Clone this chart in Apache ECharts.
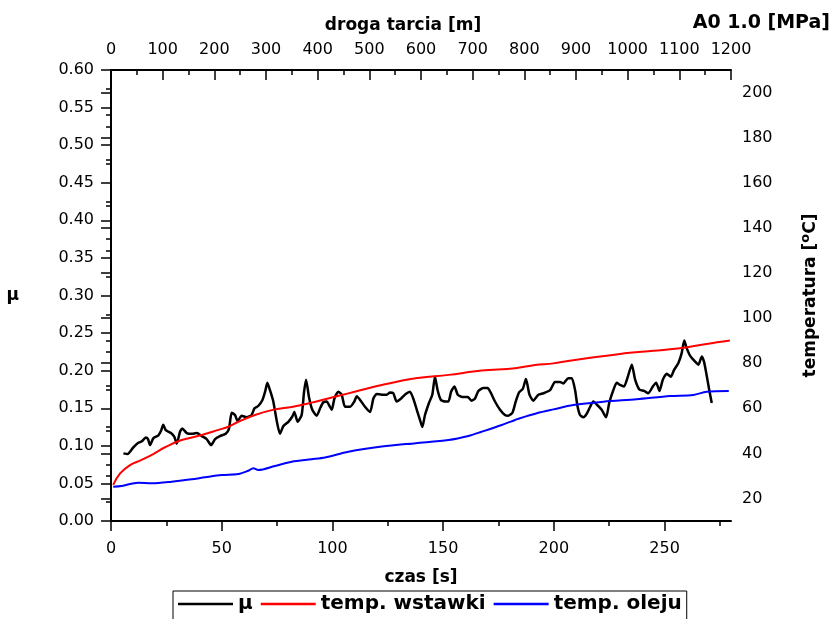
<!DOCTYPE html>
<html>
<head>
<meta charset="utf-8">
<script src="https://cdn.jsdelivr.net/npm/echarts@6/dist/echarts.min.js"></script>
<style>
  html, body { margin: 0; padding: 0; background: #fff; }
  #chart { width: 837px; height: 619px; }
</style>
</head>
<body>
<div id="chart"></div>
<script>
// wspolczynnik tarcia
const czasMu = [5.6, 7.5, 10.1, 12.3, 13.9, 15.7, 16.7, 17.6, 19.1, 21.4, 22.6, 23.6, 24.7, 27.1, 28.6, 29.7,
  31.2, 32.2, 34.2, 36.4, 38.7, 41.0, 43.2, 45.2, 47.0, 49.2, 51.8, 53.3, 54.5, 56.0, 57.2, 59.0, 61.3, 63.5,
  64.8, 66.5, 68.4, 69.6, 70.6, 71.8, 73.3, 74.8, 76.3, 77.8, 80.1, 81.9, 82.8, 84.3, 86.1, 87.2, 88.1, 89.4,
  90.9, 92.9, 94.6, 95.9, 97.4, 98.5, 99.7, 100.9, 102.7, 104.2, 105.7, 108.0, 109.9, 111.0, 112.5, 114.7,
  117.0, 118.5, 120.0, 122.3, 124.5, 126.0, 127.5, 129.0, 131.0, 133.1, 135.0, 136.5, 138.1, 139.6, 140.6,
  141.8, 143.6, 145.1, 146.3, 147.5, 149.0, 150.9, 152.4, 153.6, 155.1, 156.6, 158.7, 161.1, 162.9, 164.4,
  165.9, 168.2, 170.1, 171.6, 173.4, 175.7, 177.9, 179.4, 181.3, 182.8, 184.3, 186.0, 187.4, 189.0, 190.7,
  193.0, 195.3, 198.3, 200.5, 202.8, 204.3, 206.5, 208.1, 209.6, 210.6, 211.8, 213.3, 214.9, 216.4, 217.8,
  219.7, 221.6, 223.6, 225.0, 226.6, 228.4, 229.9, 231.7, 233.2, 235.2, 236.7, 238.6, 240.7, 242.7, 244.7,
  246.2, 247.7, 249.2, 251.0, 252.8, 254.3, 256.2, 257.7, 258.9, 260.0, 261.5, 263.8, 265.3, 266.8, 267.8,
  269.0, 270.2, 271.3];
const mu = [0.090, 0.089, 0.098, 0.104, 0.106, 0.111, 0.109, 0.101, 0.110, 0.114, 0.120, 0.128, 0.121, 0.117, 0.112, 0.103,
  0.119, 0.123, 0.117, 0.116, 0.117, 0.113, 0.109, 0.101, 0.109, 0.113, 0.116, 0.123, 0.144, 0.141, 0.133, 0.140, 0.138, 0.141,
  0.150, 0.153, 0.161, 0.172, 0.184, 0.174, 0.159, 0.134, 0.116, 0.126, 0.132, 0.139, 0.145, 0.132, 0.141, 0.172, 0.188, 0.165,
  0.148, 0.140, 0.151, 0.158, 0.159, 0.154, 0.148, 0.163, 0.172, 0.168, 0.152, 0.152, 0.159, 0.166, 0.161, 0.152,
  0.145, 0.163, 0.169, 0.168, 0.168, 0.171, 0.170, 0.159, 0.163, 0.169, 0.172, 0.163, 0.148, 0.134, 0.125,
  0.141, 0.157, 0.168, 0.192, 0.174, 0.161, 0.159, 0.159, 0.172, 0.179, 0.168, 0.165, 0.165, 0.160, 0.163,
  0.173, 0.177, 0.177, 0.170, 0.159, 0.148, 0.141, 0.140, 0.144, 0.159, 0.171, 0.176, 0.189, 0.168, 0.160,
  0.168, 0.170, 0.174, 0.185, 0.185, 0.183, 0.190, 0.190, 0.174, 0.154, 0.141, 0.138, 0.143, 0.152, 0.159,
  0.154, 0.148, 0.138, 0.157, 0.172, 0.184, 0.181, 0.179, 0.190, 0.208, 0.188, 0.175, 0.173, 0.170, 0.179,
  0.184, 0.173, 0.188, 0.196, 0.192, 0.201, 0.210, 0.223, 0.240, 0.230, 0.220, 0.212, 0.208, 0.219, 0.212,
  0.194, 0.174, 0.157];

// temperatura wstawki
const czasWstawki = [1.0, 4.1, 8.6, 13.1, 19.1, 24.4, 31.9, 41.0, 48.5, 53.0, 57.5, 65.0, 74.0, 81.6, 90.6, 96.7,
  107.2, 122.3, 137.6, 152.4, 167.4, 182.5, 191.5, 199.8, 214.9, 229.9, 244.9, 257.0, 269.0, 279.5];
const tempWstawki = [26.0, 31.1, 34.8, 36.8, 39.7, 42.7, 45.9, 48.1, 50.4, 51.8, 54.0, 57.0, 59.5, 60.6, 62.5, 64.0,
  66.6, 70.3, 73.3, 74.8, 76.7, 77.7, 79.2, 79.9, 82.2, 84.1, 85.5, 86.6, 88.5, 90.0];

// temperatura oleju
const czasOleju = [1.0, 4.8, 12.3, 18.4, 27.4, 36.4, 42.5, 50.0, 57.5, 62.0, 64.3, 66.5, 74.0, 81.6, 90.6, 96.7,
  107.2, 122.3, 137.6, 152.4, 161.4, 167.4, 176.5, 182.5, 184.7, 192.3, 199.8, 208.8, 222.4, 237.4, 252.5,
  263.0, 269.0, 279.0];
const tempOleju = [25.2, 25.5, 27.0, 26.7, 27.4, 28.5, 29.4, 30.4, 30.8, 32.3, 33.4, 32.6, 34.4, 36.3, 37.4, 38.2,
  40.7, 43.0, 44.5, 45.9, 47.7, 49.6, 52.6, 54.8, 55.6, 57.8, 59.5, 61.4, 62.9, 64.0, 65.4,
  65.9, 67.3, 67.6];

const czasMajor = [0, 50, 100, 150, 200, 250];
const czasMinor = [25, 75, 125, 175, 225, 275];
const tempMajor = [20, 40, 60, 80, 100, 120, 140, 160, 180, 200];
const tempMinor = [30, 50, 70, 90, 110, 130, 150, 170, 190];

const zip = (xs, ys) => xs.map((x, i) => [x, ys[i]]);

const FONT = 'DejaVu Sans';
const lineBlack = { color: '#000', width: 2 };
const tickStyle = { color: '#000', width: 1.5 };
const labelStyle = { color: '#000', fontSize: 16, fontFamily: FONT };
const nameStyle = { color: '#000', fontSize: 17, fontWeight: 'bold', fontFamily: FONT };

const chart = echarts.init(document.getElementById('chart'));

const option = {
  animation: false,
  backgroundColor: '#fff',
  title: {
    text: 'A0 1.0 [MPa]',
    right: 2,
    top: 9,
    textStyle: { color: '#000', fontSize: 19, fontWeight: 'bold', fontFamily: FONT }
  },
  grid: { left: 111, right: 106, top: 70, bottom: 98 },
  legend: {
    left: 173,
    top: 591,
    orient: 'horizontal',
    icon: 'rect',
    itemWidth: 55,
    itemHeight: 2.5,
    itemGap: 8,
    padding: [3, 5, 6, 5],
    borderColor: '#000',
    borderWidth: 1,
    textStyle: { color: '#000', fontSize: 20, fontWeight: 'bold', fontFamily: FONT },
    data: ['μ', 'temp. wstawki', 'temp. oleju']
  },
  xAxis: [
    {
      type: 'value',
      position: 'bottom',
      min: 0,
      max: 280,
      name: 'czas [s]',
      nameLocation: 'middle',
      nameGap: 48,
      nameTextStyle: nameStyle,
      axisLine: { lineStyle: lineBlack },
      axisTick: { customValues: czasMajor, length: 10, lineStyle: tickStyle },
      axisLabel: Object.assign({ customValues: czasMajor, margin: 20 }, labelStyle),
      splitLine: { show: false }
    },
    {
      type: 'value',
      position: 'top',
      min: 0,
      max: 1200,
      interval: 100,
      name: 'droga tarcia [m]',
      nameLocation: 'middle',
      nameGap: 36,
      nameTextStyle: Object.assign({ padding: [0, 36, 0, 0] }, nameStyle),
      axisLine: { lineStyle: lineBlack },
      axisTick: { inside: true, length: 10, lineStyle: tickStyle },
      minorTick: { show: true, splitNumber: 2, length: 5, lineStyle: tickStyle },
      axisLabel: Object.assign({ margin: 12, formatter: v => String(v) }, labelStyle),
      splitLine: { show: false }
    },
    {
      // drobne podzialki osi czasu
      type: 'value',
      position: 'bottom',
      min: 0,
      max: 280,
      axisLine: { show: false },
      axisTick: { customValues: czasMinor, length: 5, lineStyle: tickStyle },
      axisLabel: { show: false },
      splitLine: { show: false }
    }
  ],
  yAxis: [
    {
      type: 'value',
      position: 'left',
      min: 0,
      max: 0.6,
      interval: 0.05,
      name: 'μ',
      nameLocation: 'middle',
      nameRotate: 0,
      nameGap: 92,
      nameTextStyle: nameStyle,
      axisLine: { show: true, lineStyle: lineBlack },
      axisTick: { show: true, length: 10, lineStyle: tickStyle },
      minorTick: { show: true, splitNumber: 2, length: 5, lineStyle: tickStyle },
      axisLabel: Object.assign({ margin: 17, formatter: v => v.toFixed(2) }, labelStyle),
      splitLine: { show: false }
    },
    {
      type: 'value',
      position: 'right',
      min: 10,
      max: 210,
      name: 'temperatura [{sup|o}C]',
      nameLocation: 'middle',
      nameRotate: 90,
      nameGap: 68,
      nameTextStyle: Object.assign({
        rich: {
          sup: { fontSize: 13, fontWeight: 'bold', fontFamily: FONT, color: '#000', padding: [0, 0, 10, 0] }
        }
      }, nameStyle),
      axisLine: { show: true, lineStyle: lineBlack },
      axisTick: { show: true, inside: true, customValues: tempMajor, length: 10, lineStyle: tickStyle },
      axisLabel: Object.assign({ customValues: tempMajor, margin: 11 }, labelStyle),
      splitLine: { show: false }
    },
    {
      // drobne podzialki osi temperatury
      type: 'value',
      position: 'right',
      min: 10,
      max: 210,
      axisLine: { show: false },
      axisTick: { show: true, inside: true, customValues: tempMinor, length: 5, lineStyle: tickStyle },
      axisLabel: { show: false },
      splitLine: { show: false }
    }
  ],
  series: [
    {
      name: 'μ',
      type: 'line',
      xAxisIndex: 0,
      yAxisIndex: 0,
      data: zip(czasMu, mu),
      symbol: 'none',
      smooth: 0.2,
      lineStyle: { color: '#000', width: 2.5 },
      itemStyle: { color: '#000' }
    },
    {
      name: 'temp. wstawki',
      type: 'line',
      xAxisIndex: 0,
      yAxisIndex: 1,
      data: zip(czasWstawki, tempWstawki),
      symbol: 'none',
      smooth: 0.4,
      lineStyle: { color: '#ff0000', width: 2 },
      itemStyle: { color: '#ff0000' }
    },
    {
      name: 'temp. oleju',
      type: 'line',
      xAxisIndex: 0,
      yAxisIndex: 1,
      data: zip(czasOleju, tempOleju),
      symbol: 'none',
      smooth: 0.3,
      lineStyle: { color: '#0000ff', width: 2 },
      itemStyle: { color: '#0000ff' }
    }
  ]
};

chart.setOption(option);
</script>
</body>
</html>
